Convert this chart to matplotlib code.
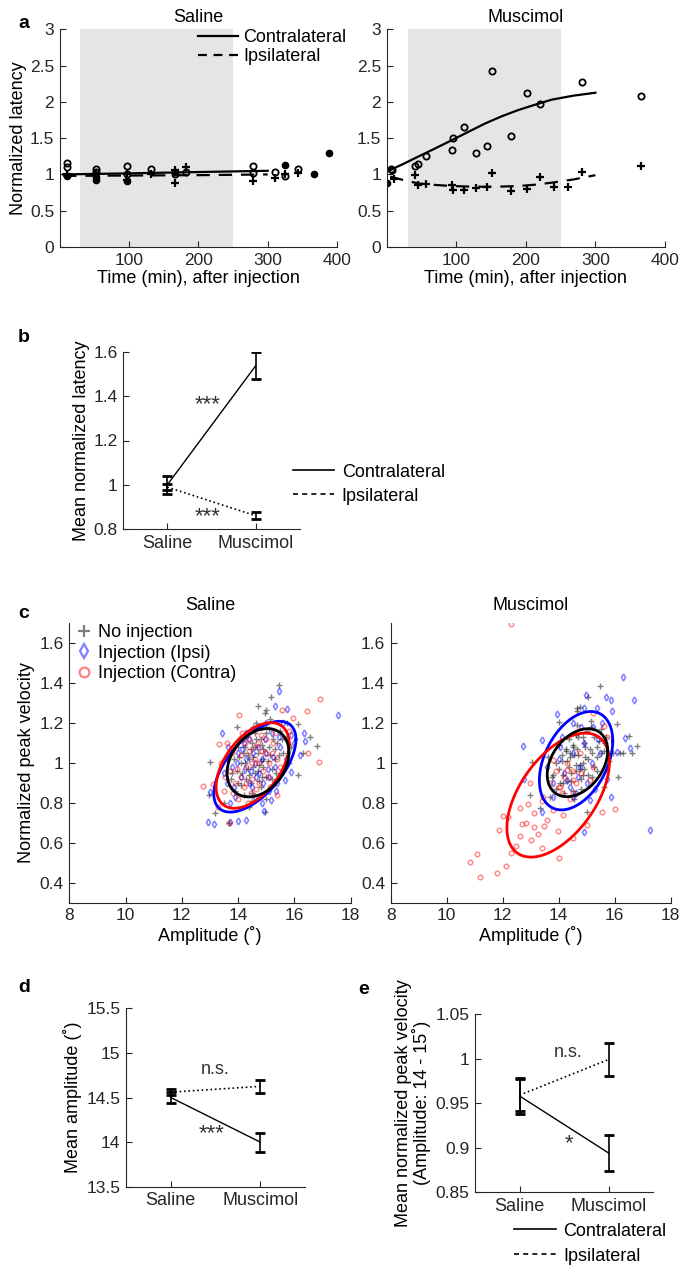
import numpy as np
import matplotlib
matplotlib.use('Agg')
import matplotlib.pyplot as plt
from matplotlib.lines import Line2D
from matplotlib.ticker import FuncFormatter

plt.rcParams['font.family'] = ['Liberation Sans', 'DejaVu Sans']

# ---------------- panel a: latency over time ----------------
sal_open_t = [11, 11, 53, 53, 97, 97, 132, 166, 182, 279, 279, 311, 325, 344]
sal_open_y = [1.16, 1.10, 1.07, 1.03, 1.11, 1.00, 1.07, 1.00, 1.03, 1.11, 1.02, 1.03, 0.98, 1.07]
sal_plus_t = [11, 53, 97, 97, 132, 166, 166, 182, 279, 311, 325, 344]
sal_plus_y = [1.00, 1.00, 1.00, 0.93, 1.00, 1.06, 0.88, 1.10, 0.91, 0.955, 1.00, 1.02]
sal_dot_t = [11, 53, 53, 97, 166, 325, 367, 389]
sal_dot_y = [0.98, 0.96, 0.93, 0.905, 1.04, 1.13, 1.00, 1.29]
sal_fit_t = [5, 100, 200, 300]
sal_fit_contra = [1.00, 1.015, 1.033, 1.05]
sal_fit_ipsi = [0.98, 0.985, 0.99, 1.00]

mus_open_t = [6, 8, 41, 45, 57, 94, 95, 111, 128, 144, 151, 178, 202, 220, 281, 366]
mus_open_y = [1.08, 1.06, 1.11, 1.14, 1.26, 1.33, 1.50, 1.65, 1.29, 1.39, 2.42, 1.53, 2.12, 1.97, 2.27, 2.085]
mus_plus_t = [10, 41, 45, 56, 94, 95, 111, 128, 144, 151, 178, 202, 220, 241, 261, 281, 366]
mus_plus_y = [0.94, 0.99, 0.85, 0.87, 0.86, 0.785, 0.785, 0.81, 0.82, 1.02, 0.77, 0.80, 0.96, 0.83, 0.83, 1.04, 1.11]
mus_dot_t = [1]
mus_dot_y = [0.88]
mus_fit_t = [5, 25, 45, 70, 94, 118, 141, 165, 189, 213, 237, 268, 300]
mus_fit_contra = [1.06, 1.15, 1.244, 1.36, 1.474, 1.59, 1.70, 1.80, 1.887, 1.96, 2.03, 2.085, 2.126]
mus_fit_ipsi = [0.97, 0.92, 0.877, 0.855, 0.84, 0.833, 0.83, 0.833, 0.84, 0.858, 0.886, 0.93, 0.99]

# ---------------- panels b, d, e: means with error bars ----------------
conds = ['Saline', 'Muscimol']
b_contra = [1.00, 1.537]
b_contra_err = [0.04, 0.06]
b_ipsi = [0.99, 0.861]
b_ipsi_err = [0.012, 0.015]

d_contra = [14.50, 14.00]
d_contra_err = [0.065, 0.107]
d_ipsi = [14.56, 14.625]
d_ipsi_err = [0.03, 0.075]

e_contra = [0.958, 0.894]
e_contra_err = [0.02, 0.0205]
e_ipsi = [0.959, 0.999]
e_ipsi_err = [0.018, 0.018]

# ---------------- panel c: peak velocity vs amplitude ----------------
sal_none_x = [15.46, 15.19, 14.72, 15.01, 15.73, 16.12, 16.55, 16.82, 16.14, 13.0, 12.98, 13.18, 14.95, 13.69,
              13.95, 13.83, 14.54, 14.2, 14.5, 14.8, 15.1, 15.3, 14.9, 14.6, 14.3, 14.0, 13.8, 14.1, 14.4, 14.7,
              15.0, 15.4, 15.6, 15.2, 14.8, 14.5, 14.2, 13.9, 14.0, 14.6, 15.5, 15.8, 14.35, 14.75, 15.05, 14.15,
              14.55, 14.9, 15.25, 13.75, 14.45, 15.35, 14.65, 15.15, 13.6, 14.05, 15.7, 14.25, 14.85, 14.95, 15.9,
              16.3, 14.4, 15.0, 13.5, 14.3, 14.6, 14.9, 15.2, 14.4, 14.1, 13.85, 14.75, 15.0, 15.45, 14.55, 14.85,
              15.1, 14.25, 14.65, 13.95, 15.3, 14.5, 15.55, 14.05, 14.8, 14.35, 15.15, 14.7, 14.45]
sal_none_y = [1.387, 1.33, 1.283, 1.263, 1.197, 1.193, 1.13, 1.085, 0.938, 1.005, 0.838, 0.747, 0.755, 0.697,
              1.18, 1.063, 1.18, 1.05, 1.10, 1.12, 1.08, 1.02, 0.98, 0.95, 0.92, 0.90, 0.95, 1.00, 1.02, 1.05,
              1.15, 1.10, 1.05, 0.92, 0.88, 0.85, 0.84, 0.86, 1.08, 1.15, 1.16, 1.00, 0.97, 0.99, 1.01, 0.95,
              1.03, 1.07, 1.12, 0.92, 0.90, 0.95, 1.20, 1.22, 1.02, 1.12, 1.12, 1.08, 0.93, 1.25, 1.08,
              1.05, 0.78, 0.82, 0.80, 1.13, 1.08, 1.02, 0.97, 0.94, 0.89, 1.02, 0.91, 0.93, 1.04, 0.98, 1.09,
              1.17, 1.00, 1.12, 0.96, 1.07, 0.81, 1.12, 1.03, 1.01, 1.04, 1.04, 0.96, 1.07]
sal_ipsi_x = [15.46, 15.33, 15.73, 13.44, 14.3, 16.35, 16.37, 15.88, 15.67, 13.0, 12.94, 13.14, 13.71, 14.0,
              14.3, 14.93, 15.16, 17.56, 13.71, 14.3, 14.7, 15.0, 15.3, 14.9, 14.5, 14.1, 13.8, 14.6, 15.2, 15.5,
              14.4, 13.9, 15.1, 14.2, 15.7, 14.8, 13.6, 14.0, 15.4, 14.65, 15.05, 16.0, 13.5, 14.85, 15.6, 16.2,
              14.45, 13.65, 15.9, 14.55, 14.95, 15.25, 14.25, 14.75, 15.1, 13.95, 14.4, 15.45, 14.85, 14.15,
              15.35, 14.6, 13.85, 15.0]
sal_ipsi_y = [1.358, 1.283, 1.267, 1.147, 1.147, 1.147, 1.108, 0.955, 0.913, 0.855, 0.705, 0.692, 0.705, 0.71,
              0.713, 0.76, 0.813, 1.24, 0.797, 1.02, 1.08, 1.05, 0.98, 0.90, 0.88, 0.93, 0.98, 1.00, 1.15, 1.08,
              1.12, 0.83, 0.86, 1.10, 1.02, 1.18, 0.90, 1.05, 0.90, 0.93, 0.97, 1.10, 0.95, 0.80, 1.20, 1.04,
              0.96, 1.08, 1.14, 1.05, 1.12, 1.03, 0.97, 0.95, 0.93, 1.00, 0.90, 1.13, 1.02, 1.07,
              0.86, 0.83, 0.88, 1.20]
sal_contra_x = [14.03, 13.33, 15.57, 15.96, 16.46, 16.93, 16.87, 12.76, 13.12, 13.69, 14.6, 15.37, 13.83, 14.1,
                14.4, 14.7, 15.0, 15.2, 14.9, 14.5, 14.2, 13.9, 13.7, 14.3, 14.6, 15.1, 14.8, 14.0, 13.5, 15.3,
                14.45, 13.4, 14.75, 15.5, 14.15, 13.6, 14.95, 15.15, 14.35, 16.5, 13.3, 15.8, 14.55, 14.25, 14.5,
                14.85, 15.05, 14.65, 13.95, 14.4, 15.25, 14.1, 14.75, 13.8, 15.4, 14.3, 14.9, 13.55]
sal_contra_y = [1.238, 1.092, 1.263, 1.225, 1.258, 1.32, 1.005, 0.885, 0.892, 0.697, 1.08, 0.838, 0.847, 1.04,
                1.06, 1.10, 1.12, 1.05, 0.96, 0.92, 0.88, 0.90, 0.96, 0.98, 1.02, 1.00, 1.14, 0.82, 0.86, 1.15,
                0.85, 1.00, 0.90, 0.98, 1.15, 1.10, 1.05, 0.88, 0.80, 1.05, 0.78, 1.16, 1.17, 1.10, 1.00,
                1.06, 0.93, 0.87, 0.97, 1.12, 1.10, 0.93, 1.00, 1.05, 1.02, 0.90, 1.18, 0.93]

mus_none_x = [15.48, 15.06, 14.76, 14.64, 16.07, 16.5, 16.81, 16.19, 15.95, 13.04, 12.98, 13.33, 15.0, 14.64,
              14.0, 16.13, 15.6, 14.25, 14.5, 14.85, 15.1, 15.35, 14.9, 14.6, 14.3, 14.05, 13.8, 14.1, 14.4,
              14.7, 15.0, 15.45, 15.6, 15.2, 14.8, 14.5, 14.2, 13.9, 14.0, 14.6, 15.5, 15.8, 14.35, 14.75, 15.05,
              14.15, 14.55, 14.95, 15.25, 13.75, 14.45, 15.35, 14.65, 15.15, 13.6, 14.05, 15.7, 14.25, 14.85,
              16.3, 16.6, 13.7, 14.35, 14.65, 14.95, 15.25, 14.45, 14.15, 13.9, 14.8, 15.05, 15.5, 14.6, 14.9,
              15.15, 14.3, 14.7, 14.0, 15.35, 14.55, 15.65, 14.1, 14.85, 14.4, 15.2, 14.75, 14.5]
mus_none_y = [1.385, 1.33, 1.28, 1.272, 1.193, 1.133, 1.085, 1.05, 1.047, 1.005, 0.838, 0.772, 0.755, 1.258,
              1.205, 0.93, 0.88, 1.06, 1.09, 1.13, 1.07, 1.03, 0.97, 0.96, 0.91, 0.90, 0.94, 1.01, 1.03,
              1.04, 1.16, 1.11, 1.06, 0.93, 0.87, 0.86, 0.85, 0.87, 1.09, 1.14, 1.17, 1.01, 0.98, 0.99, 1.02,
              0.94, 1.04, 1.08, 1.13, 0.93, 0.91, 0.96, 1.19, 1.21, 1.03, 1.11, 1.13, 1.07, 0.94,
              1.05, 1.05, 0.83, 1.12, 1.07, 1.03, 0.98, 0.95, 0.90, 1.00, 0.92, 0.94, 1.05, 0.99, 1.10,
              1.18, 1.01, 1.13, 0.97, 1.08, 0.82, 1.10, 1.04, 1.00, 1.05, 1.05, 0.97, 1.08]
mus_ipsi_x = [16.29, 16.69, 14.98, 14.9, 15.68, 15.86, 15.36, 15.89, 12.71, 13.39, 13.93, 16.37, 16.55, 16.07,
              15.86, 17.26, 14.92, 12.76, 13.39, 15.71, 13.81, 14.52, 15.24, 13.57, 14.29, 14.76, 15.48, 14.05,
              14.52, 15.12, 14.5, 14.9, 15.2, 14.2, 14.7, 15.0, 14.0, 14.4, 15.4, 14.8, 14.1, 15.3, 14.6, 13.8,
              15.55]
mus_ipsi_y = [1.427, 1.313, 1.338, 1.272, 1.33, 1.313, 1.272, 1.26, 1.085, 1.113, 1.242, 1.122, 1.075, 1.055,
              0.83, 0.663, 0.655, 0.918, 0.755, 0.917, 0.83, 1.197, 1.18, 0.98, 0.913, 0.98, 1.047, 1.08,
              0.83, 0.813, 1.05, 1.10, 1.00, 0.95, 0.93, 0.90, 1.02, 0.88, 1.12, 1.18, 1.13, 0.87, 0.85, 0.90,
              1.20]
mus_contra_x = [12.29, 10.83, 11.07, 11.19, 11.79, 12.12, 11.88, 12.02, 12.2, 12.62, 12.46, 12.29, 12.62, 13.01,
                13.39, 13.25, 12.68, 13.1, 13.57, 13.99, 14.02, 14.52, 15.02, 15.56, 16.0, 14.14, 13.39, 12.98,
                12.92, 13.81, 12.82, 13.48, 13.13, 15.24, 15.6, 15.71, 13.81, 14.52, 14.29, 14.76, 14.05, 14.52,
                15.12, 15.24, 13.45, 14.2, 14.5, 14.0, 14.6, 13.9, 14.3, 14.8, 14.1, 14.4, 13.7]
mus_contra_y = [1.692, 0.505, 0.543, 0.427, 0.447, 0.485, 0.663, 0.733, 0.727, 0.775, 0.585, 0.547, 0.635, 0.613,
                0.572, 0.642, 0.692, 0.747, 0.713, 0.66, 0.525, 0.622, 0.688, 0.755, 0.768, 0.74, 0.808, 0.897,
                0.792, 0.763, 0.697, 0.683, 0.677, 1.247, 1.185, 1.13, 1.013, 0.913, 0.963, 1.047, 0.88, 0.847,
                0.913, 0.98, 0.83, 0.93, 0.96, 0.88, 0.90, 0.96, 1.00, 0.95, 0.85, 0.82, 0.90]

# ellipses: centre x, centre y, half-extent x, half-extent y, correlation
ell_colors = ['b', 'r', 'k']
sal_ell = [[14.60, 0.98, 1.46, 0.227, 0.60],
           [14.52, 0.986, 1.30, 0.214, 0.50],
           [14.71, 1.00, 1.10, 0.171, 0.30]]
mus_ell = [[14.62, 1.01, 1.31, 0.246, 0.40],
           [13.98, 0.838, 1.83, 0.31, 0.53],
           [14.67, 1.00, 1.08, 0.17, 0.35]]

AX_COL = '#262626'
W, H = 681, 1272


def add_ax(left, top, right, bottom):
    return fig.add_axes([left / W, 1 - bottom / H, (right - left) / W, (bottom - top) / H])


def style(ax):
    for s in ['top', 'right']:
        ax.spines[s].set_visible(False)
    for s in ['left', 'bottom']:
        ax.spines[s].set_color(AX_COL)
        ax.spines[s].set_linewidth(0.8)
    ax.tick_params(direction='in', length=4, width=0.8, colors=AX_COL, labelsize=12.5, pad=4)
    ax.yaxis.set_major_formatter(FuncFormatter(lambda v, p: '%g' % round(v, 4)))


fig = plt.figure(figsize=(W / 100, H / 100), dpi=100)

# ---- a ----
for i, (name, left, right) in enumerate([('Saline', 59.7, 337), ('Muscimol', 386.7, 665)]):
    ax = add_ax(left, 29.3, right, 247)
    style(ax)
    ax.axvspan(30, 250, color='#e5e5e5', lw=0, zorder=0)
    if i == 0:
        ot, oy, pt, py, dt, dy = sal_open_t, sal_open_y, sal_plus_t, sal_plus_y, sal_dot_t, sal_dot_y
        ft, fc, fi = sal_fit_t, sal_fit_contra, sal_fit_ipsi
    else:
        ot, oy, pt, py, dt, dy = mus_open_t, mus_open_y, mus_plus_t, mus_plus_y, mus_dot_t, mus_dot_y
        ft, fc, fi = mus_fit_t, mus_fit_contra, mus_fit_ipsi
    ax.plot(ot, oy, 'o', ms=4.5, mfc='none', mec='k', mew=1.3)
    ax.plot(pt, py, '+', ms=5.5, color='k', mew=1.6)
    ax.plot(dt, dy, 'o', ms=4.5, color='k')
    ax.plot(ft, fc, '-', color='k', lw=1.6)
    ax.plot(ft, fi, color='k', lw=1.6, ls=(0, (6, 4)))
    ax.set_xlim(0, 400)
    ax.set_ylim(0, 3)
    ax.set_xticks([100, 200, 300, 400])
    ax.set_yticks([0, 0.5, 1, 1.5, 2, 2.5, 3])
    ax.set_xlabel('Time (min), after injection', fontsize=13, labelpad=2)
    ax.set_title(name, fontsize=13, pad=5)
    if i == 0:
        ax.set_ylabel('Normalized latency', fontsize=13, labelpad=2)
        hs = [Line2D([], [], color='k', lw=1.6), Line2D([], [], color='k', lw=1.6, ls=(0, (4, 3)))]
        ax.legend(hs, ['Contralateral', 'Ipsilateral'], loc='upper left', bbox_to_anchor=(0.5, 1.0),
                  frameon=False, fontsize=13, handlelength=2.2, handletextpad=0.3, borderaxespad=0,
                  borderpad=0, labelspacing=0.1)
fig.text(18 / W, 1 - 24 / H, 'a', fontsize=14, fontweight='bold', va='center')


def mean_panel(ax, contra, contra_err, ipsi, ipsi_err, ylim, yticks):
    style(ax)
    x = [1, 2]
    ax.plot(x, contra, '-', color='k', lw=1)
    ax.plot(x, ipsi, ':', color='k', lw=1.2)
    ax.errorbar(x, contra, yerr=contra_err, fmt='none', ecolor='k', elinewidth=1.2, capsize=3.6, capthick=2)
    ax.errorbar(x, ipsi, yerr=ipsi_err, fmt='none', ecolor='k', elinewidth=1.2, capsize=3.6, capthick=2)
    ax.set_xlim(0.5, 2.5)
    ax.set_ylim(*ylim)
    ax.set_xticks(x)
    ax.set_xticklabels(conds, fontsize=13)
    ax.set_yticks(yticks)


STAR = dict(fontsize=16, color='#333333', ha='center', va='center')
NS = dict(fontsize=13, color='#333333', ha='center', va='center')

# ---- b ----
ax = add_ax(123, 351.7, 300, 529.3)
mean_panel(ax, b_contra, b_contra_err, b_ipsi, b_ipsi_err, (0.8, 1.6), [0.8, 1, 1.2, 1.4, 1.6])
ax.set_ylabel('Mean normalized latency', fontsize=13, labelpad=2)
ax.text(1.46, 1.36, '***', **STAR)
ax.text(1.46, 0.855, '***', **STAR)
hs = [Line2D([], [], color='k', lw=1.2), Line2D([], [], color='k', lw=1.2, ls=(0, (3, 2.5)))]
ax.legend(hs, ['Contralateral', 'Ipsilateral'], loc='upper left', bbox_to_anchor=(0.96, 0.37),
          frameon=False, fontsize=13, handlelength=2.3, handletextpad=0.4, borderaxespad=0,
          borderpad=0, labelspacing=0.4)
fig.text(18 / W, 1 - 338 / H, 'b', fontsize=14, fontweight='bold', va='center')

# ---- c ----
for i, (name, left, right) in enumerate([('Saline', 69.3, 350.5), ('Muscimol', 390.7, 670.7)]):
    ax = add_ax(left, 622.7, right, 902.7)
    style(ax)
    if i == 0:
        nx, ny, ix, iy, cx, cy, ells = sal_none_x, sal_none_y, sal_ipsi_x, sal_ipsi_y, sal_contra_x, sal_contra_y, sal_ell
    else:
        nx, ny, ix, iy, cx, cy, ells = mus_none_x, mus_none_y, mus_ipsi_x, mus_ipsi_y, mus_contra_x, mus_contra_y, mus_ell
    ax.plot(nx, ny, '+', ms=4, color='k', alpha=0.5, mew=1)
    ax.plot(ix, iy, 'd', ms=3.5, mfc='none', mec='b', alpha=0.5, mew=1.1)
    ax.plot(cx, cy, 'o', ms=3.3, mfc='none', mec='r', alpha=0.45, mew=1.1)
    t = np.linspace(0, 2 * np.pi, 200)
    for (ex, ey, hx, hy, rho), col in zip(ells, ell_colors):
        ax.plot(ex + hx * np.cos(t), ey + hy * (rho * np.cos(t) + np.sqrt(1 - rho ** 2) * np.sin(t)),
                color=col, lw=2)
    ax.set_xlim(8, 18)
    ax.set_ylim(0.3, 1.7)
    ax.set_xticks([8, 10, 12, 14, 16, 18])
    ax.set_yticks([0.4, 0.6, 0.8, 1, 1.2, 1.4, 1.6])
    ax.set_xlabel('Amplitude (˚)', fontsize=13, labelpad=2)
    ax.set_title(name, fontsize=13, pad=9)
    if i == 0:
        ax.set_ylabel('Normalized peak velocity', fontsize=13, labelpad=3)
        hs = [Line2D([], [], ls='none', marker='+', ms=8, color='k', alpha=0.5, mew=1.6),
              Line2D([], [], ls='none', marker='d', ms=7, mfc='none', mec='b', alpha=0.5, mew=1.6),
              Line2D([], [], ls='none', marker='o', ms=7, mfc='none', mec='r', alpha=0.5, mew=1.6)]
        ax.legend(hs, ['No injection', 'Injection (Ipsi)', 'Injection (Contra)'], loc='upper left',
                  bbox_to_anchor=(0.02, 0.995), frameon=False, fontsize=13, handlelength=1.0,
                  handletextpad=0.3, borderaxespad=0, borderpad=0, labelspacing=0.2)
fig.text(18 / W, 1 - 613 / H, 'c', fontsize=14, fontweight='bold', va='center')

# ---- d ----
ax = add_ax(126, 1008.3, 305, 1186.7)
mean_panel(ax, d_contra, d_contra_err, d_ipsi, d_ipsi_err, (13.5, 15.5), [13.5, 14, 14.5, 15, 15.5])
ax.set_ylabel('Mean amplitude (˚)', fontsize=13, labelpad=3)
ax.text(1.5, 14.81, 'n.s.', **NS)
ax.text(1.46, 14.09, '***', **STAR)
fig.text(18 / W, 1 - 988 / H, 'd', fontsize=14, fontweight='bold', va='center')

# ---- e ----
ax = add_ax(475, 1014, 653.3, 1192.3)
mean_panel(ax, e_contra, e_contra_err, e_ipsi, e_ipsi_err, (0.85, 1.05), [0.85, 0.9, 0.95, 1, 1.05])
ax.set_ylabel('Mean normalized peak velocity\n(Amplitude: 14 - 15˚)', fontsize=13, labelpad=3,
              linespacing=1.0)
ax.text(1.55, 1.007, 'n.s.', **NS)
ax.text(1.55, 0.905, '*', **STAR)
hs = [Line2D([], [], color='k', lw=1.2), Line2D([], [], color='k', lw=1.2, ls=(0, (3, 2.5)))]
ax.legend(hs, ['Contralateral', 'Ipsilateral'], loc='upper left', bbox_to_anchor=(0.22, -0.17),
          frameon=False, fontsize=13, handlelength=2.3, handletextpad=0.4, borderaxespad=0,
          borderpad=0, labelspacing=0.45)
fig.text(358 / W, 1 - 989 / H, 'e', fontsize=14, fontweight='bold', va='center')

fig.savefig('out.png', dpi=100)
